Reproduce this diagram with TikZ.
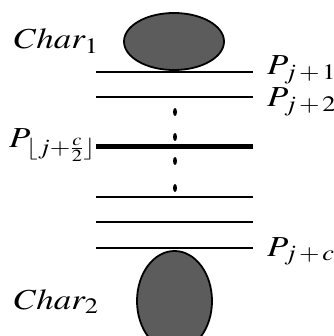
\documentclass[tikz,border=0pt]{standalone}
\usepackage{mathptmx}
\DeclareMathSizes{29}{29}{22}{17}
\begin{document}
\begin{tikzpicture}[x=1pt, y=-1pt, font=\fontsize{29}{32}\selectfont,
    blob/.style={draw=black, line width=1.8pt, fill=black!64},
    lbl/.style={anchor=base west, inner sep=0pt, xscale=1.2, transform shape}]
  \useasboundingbox (0,0) rectangle (333,336);
  % the two characters
  \begin{scope}
    \clip (0,0) rectangle (333,336);
    \draw[blob] (174,41.5) ellipse [x radius=50, y radius=28.5];
    \draw[blob] (174.5,301) ellipse [x radius=37.5, y radius=50];
  \end{scope}
  \node[lbl] (char1) at (14,49) {$Char_1$};
  \node[lbl] (char2) at (14,309) {$Char_2$};

  % the cut paths
  \foreach \yv/\lw in {72/2.8pt, 97/2.8pt, 147/5pt, 197/2.8pt, 222/2.8pt, 248/2.8pt} {
    \draw[line width=\lw] (96,\yv) -- (253,\yv);
  }
  \foreach \yv in {112, 137, 161, 188} {
    \fill (175,\yv) ellipse [x radius=2, y radius=4];
  }

  \node[lbl] (pa) at (267,75) {$P_{j\,+\,1}$};
  \node[lbl] (pb) at (267,107) {$P_{j\,+\,2}$};
  \node[lbl] (pmid) at (9,148) {$P_{\lfloor j+\frac{c}{2}\rfloor}$};
  \node[lbl] (pc) at (267,256) {$P_{j\,+\,c}$};
\end{tikzpicture}
\end{document}
